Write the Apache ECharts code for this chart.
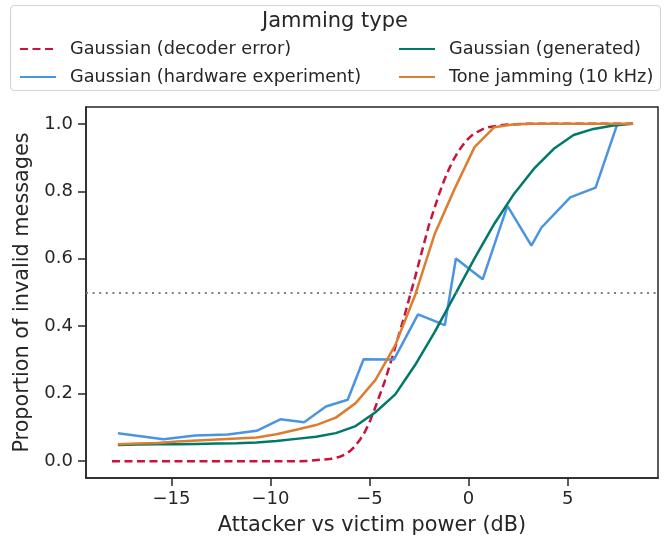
<!DOCTYPE html>
<html>
<head>
<meta charset="utf-8">
<script src="https://cdn.jsdelivr.net/npm/echarts@6/dist/echarts.min.js"></script>
<style>html,body{margin:0;padding:0;background:#fff}#c{width:670px;height:541px}</style>
</head>
<body>
<div id="c"></div>
<script>
// ---- data ----
var seriesNames = ['Gaussian (decoder error)', 'Gaussian (hardware experiment)', 'Gaussian (generated)', 'Tone jamming (10 kHz)'];
var xTicks = [-15, -10, -5, 0, 5];
var yTicks = [0, 0.2, 0.4, 0.6, 0.8, 1.0];
var threshold = 0.5;

var decoderX = [-18, -16, -14, -12, -10, -8.5, -8, -7.5, -7, -6.5, -6.25, -6, -5.75, -5.5, -5.25, -5, -4.75, -4.5, -4.25, -4, -3.75, -3.5, -3.25, -3, -2.75, -2.5, -2.25, -2, -1.75, -1.5, -1.25, -1, -0.75, -0.5, -0.25, 0, 0.25, 0.5, 0.75, 1, 1.5, 2, 3, 5, 8.3];
var decoderY = [0, 0, 0, 0, 0, 0, 0.001, 0.004, 0.006, 0.013, 0.019, 0.029, 0.043, 0.062, 0.085, 0.115, 0.153, 0.193, 0.233, 0.28, 0.328, 0.378, 0.428, 0.482, 0.534, 0.59, 0.645, 0.70, 0.745, 0.79, 0.83, 0.865, 0.895, 0.92, 0.94, 0.957, 0.97, 0.978, 0.985, 0.99, 0.995, 0.998, 1.0, 1.0, 1.0];

var hwX = [-17.7, -15.4, -13.8, -12.15, -10.7, -9.5, -8.3, -7.2, -6.1, -5.3, -3.77, -2.55, -1.2, -0.64, 0.71, 1.96, 3.17, 3.67, 5.13, 6.41, 7.51];
var hwY = [0.083, 0.065, 0.076, 0.079, 0.090, 0.124, 0.115, 0.162, 0.182, 0.302, 0.301, 0.435, 0.403, 0.601, 0.539, 0.757, 0.639, 0.692, 0.782, 0.811, 1.0];

var simX = [-17.7, -16.7, -15.7, -14.7, -13.7, -12.7, -11.7, -10.7, -9.7, -8.7, -7.7, -6.7, -5.7, -4.7, -3.7, -2.7, -1.7, -0.7, 0.3, 1.3, 2.3, 3.3, 4.3, 5.3, 6.3, 7.3, 8.3];
var generatedY = [0.048, 0.049, 0.050, 0.050, 0.051, 0.052, 0.053, 0.055, 0.060, 0.066, 0.072, 0.083, 0.104, 0.145, 0.198, 0.285, 0.384, 0.492, 0.601, 0.704, 0.793, 0.867, 0.926, 0.967, 0.985, 0.995, 1.0];
var toneY = [0.050, 0.052, 0.054, 0.058, 0.061, 0.064, 0.067, 0.070, 0.080, 0.093, 0.107, 0.129, 0.172, 0.241, 0.344, 0.492, 0.675, 0.808, 0.931, 0.990, 0.999, 1.0, 1.0, 1.0, 1.0, 1.0, 1.0];

function pairs(xs, ys) { return xs.map(function (x, i) { return [x, ys[i]]; }); }

var FONT = 'DejaVu Sans';
var TXT = '#262626';
var colors = ['#c8143b', '#4a94e2', '#00786a', '#dc7d2f'];

var legendCommon = {
  orient: 'vertical', top: 40, padding: 0, itemWidth: 36, itemHeight: 14, itemGap: 10, z: 10,
  itemStyle: { opacity: 0 },
  textStyle: { fontFamily: FONT, fontSize: 17.7, color: TXT, lineHeight: 16, padding: [0, 0, 0, 9] }
};

var chart = echarts.init(document.getElementById('c'), null, { renderer: 'canvas' });
chart.setOption({
  animation: false,
  backgroundColor: '#fff',
  textStyle: { fontFamily: FONT, color: TXT },
  grid: { left: 86, right: 12, top: 107, bottom: 62, show: true, borderColor: TXT, borderWidth: 1.5, backgroundColor: 'transparent' },
  graphic: [
    { type: 'rect', z: 0, shape: { x: 10.5, y: 5.5, width: 650, height: 85, r: 4 }, style: { fill: '#fff', stroke: '#d4d4d4', lineWidth: 1.2 } },
    { type: 'text', z: 10, x: 335, y: 22, style: { text: 'Jamming type', fontFamily: FONT, fontSize: 21, fill: TXT, align: 'center', verticalAlign: 'middle' } }
  ],
  legend: [
    Object.assign({}, legendCommon, { data: [seriesNames[0], seriesNames[1]], left: 19 }),
    Object.assign({}, legendCommon, { data: [seriesNames[2], seriesNames[3]], left: 398 })
  ],
  xAxis: {
    type: 'value', min: -19.31, max: 9.56,
    name: 'Attacker vs victim power (dB)', nameLocation: 'middle', nameGap: 37,
    nameTextStyle: { fontFamily: FONT, fontSize: 20.8, color: TXT },
    axisLine: { show: true, onZero: false, lineStyle: { color: TXT, width: 1.5 } },
    splitLine: { show: false },
    axisTick: { show: true, length: 8, lineStyle: { color: TXT, width: 1.5 }, customValues: xTicks },
    axisLabel: { fontFamily: FONT, fontSize: 18, color: TXT, margin: 12, customValues: xTicks,
      formatter: function (v) { return String(v).replace('-', '\u2212'); } }
  },
  yAxis: {
    type: 'value', min: -0.05, max: 1.05,
    name: 'Proportion of invalid messages', nameLocation: 'middle', nameGap: 52,
    nameTextStyle: { fontFamily: FONT, fontSize: 20.8, color: TXT },
    axisLine: { show: true, onZero: false, lineStyle: { color: TXT, width: 1.5 } },
    splitLine: { show: false },
    axisTick: { show: true, length: 8, lineStyle: { color: TXT, width: 1.5 }, customValues: yTicks },
    axisLabel: { fontFamily: FONT, fontSize: 18, color: TXT, margin: 13, customValues: yTicks,
      formatter: function (v) { return v.toFixed(1); } }
  },
  series: [
    { name: seriesNames[0], type: 'line', data: pairs(decoderX, decoderY), symbol: 'none', smooth: false, z: 2,
      lineStyle: { color: colors[0], width: 2.5, type: [8, 4.5] }, itemStyle: { color: colors[0] },
      markLine: { silent: true, symbol: 'none', label: { show: false }, animation: false,
        lineStyle: { color: '#808080', type: [2, 4.6], width: 2 }, data: [{ yAxis: threshold }] } },
    { name: seriesNames[1], type: 'line', data: pairs(hwX, hwY), symbol: 'none', z: 3,
      lineStyle: { color: colors[1], width: 2.5 }, itemStyle: { color: colors[1] } },
    { name: seriesNames[2], type: 'line', data: pairs(simX, generatedY), symbol: 'none', z: 4,
      lineStyle: { color: colors[2], width: 2.5 }, itemStyle: { color: colors[2] } },
    { name: seriesNames[3], type: 'line', data: pairs(simX, toneY), symbol: 'none', z: 5,
      lineStyle: { color: colors[3], width: 2.5 }, itemStyle: { color: colors[3] } }
  ]
});
</script>
</body>
</html>
